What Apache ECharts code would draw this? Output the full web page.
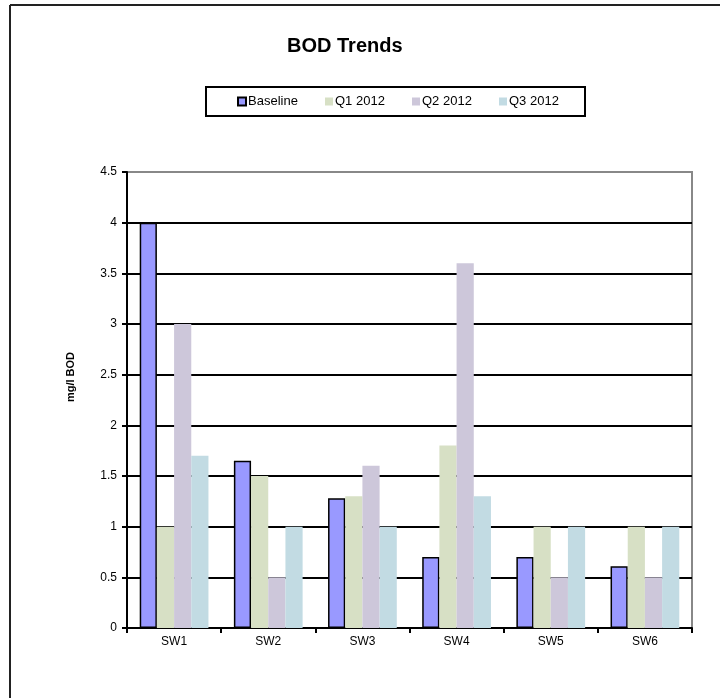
<!DOCTYPE html>
<html>
<head>
<meta charset="utf-8">
<script src="https://cdn.jsdelivr.net/npm/echarts@6/dist/echarts.min.js"></script>
<style>
html,body{margin:0;padding:0;background:#fff;}
#chart{width:720px;height:698px;}
</style>
</head>
<body>
<div id="chart"></div>
<script>
const categories = ['SW1', 'SW2', 'SW3', 'SW4', 'SW5', 'SW6'];
const seriesNames = ['Baseline', 'Q1 2012', 'Q2 2012', 'Q3 2012'];
const baseline = [4.0, 1.65, 1.28, 0.7, 0.7, 0.61];
const q1_2012 = [1.0, 1.5, 1.3, 1.8, 1.0, 1.0];
const q2_2012 = [3.0, 0.5, 1.6, 3.6, 0.5, 0.5];
const q3_2012 = [1.7, 1.0, 1.0, 1.3, 1.0, 1.0];
const yTicks = { min: 0, max: 4.5, interval: 0.5 };

const colors = ['#9999FF', '#D7E0C5', '#CDC7DA', '#C2DBE3'];
const font = 'Liberation Sans, Arial, sans-serif';
const legendLefts = [237, 325, 412, 499];

const chart = echarts.init(document.getElementById('chart'), null, { renderer: 'canvas' });
const dataSets = [baseline, q1_2012, q2_2012, q3_2012];

chart.setOption({
  animation: false,
  backgroundColor: '#fff',
  title: {
    text: 'BOD Trends',
    left: 287,
    top: 36,
    padding: 0,
    textStyle: { fontFamily: font, fontSize: 20, fontWeight: 'bold', color: '#000' }
  },
  legend: seriesNames.map((n, i) => ({
    data: [n],
    left: legendLefts[i],
    top: 95,
    padding: 0,
    itemWidth: 8,
    itemHeight: 8,
    icon: 'rect',
    selectedMode: false,
    textStyle: { fontFamily: font, fontSize: 13, color: '#000', padding: [0, 0, 0, -3] }
  })),
  grid: {
    left: 127, right: 28, top: 172, bottom: 70,
    show: true, borderColor: '#888', borderWidth: 2, backgroundColor: '#fff'
  },
  xAxis: {
    type: 'category',
    data: categories,
    axisLine: { lineStyle: { color: '#000', width: 2 } },
    axisTick: { show: true, length: 5, inside: false, alignWithLabel: false, lineStyle: { color: '#000', width: 2 } },
    axisLabel: { fontFamily: font, fontSize: 12, color: '#000', margin: 8 },
    splitLine: { show: false }
  },
  yAxis: {
    type: 'value',
    min: yTicks.min, max: yTicks.max, interval: yTicks.interval,
    axisLine: { show: true, lineStyle: { color: '#000', width: 2 } },
    axisTick: { show: true, length: 5, lineStyle: { color: '#000', width: 2 } },
    axisLabel: { fontFamily: font, fontSize: 12, color: '#000', margin: 10 },
    splitLine: { show: true, showMaxLine: false, lineStyle: { color: '#000', width: 2 } }
  },
  graphic: [
    { type: 'line', shape: { x1: 10, y1: 5, x2: 10, y2: 698 }, style: { stroke: '#222', lineWidth: 2 } },
    { type: 'line', shape: { x1: 10, y1: 5, x2: 720, y2: 5 }, style: { stroke: '#222', lineWidth: 2 } },
    { type: 'rect', shape: { x: 206, y: 87, width: 379, height: 29 }, style: { fill: 'none', stroke: '#000', lineWidth: 2 }, z: 10 },
    { type: 'text', x: 71, y: 377, rotation: Math.PI / 2,
      style: { text: 'mg/l BOD', font: 'bold 11px ' + font, fill: '#000', textAlign: 'center', textVerticalAlign: 'middle' } }
  ],
  series: seriesNames.map((name, i) => ({
    name: name,
    type: 'bar',
    data: dataSets[i],
    barGap: '0%',
    barCategoryGap: '27%',
    itemStyle: i === 0
      ? { color: colors[i], borderColor: '#000', borderWidth: 1.5 }
      : { color: colors[i] }
  }))
});
</script>
</body>
</html>
